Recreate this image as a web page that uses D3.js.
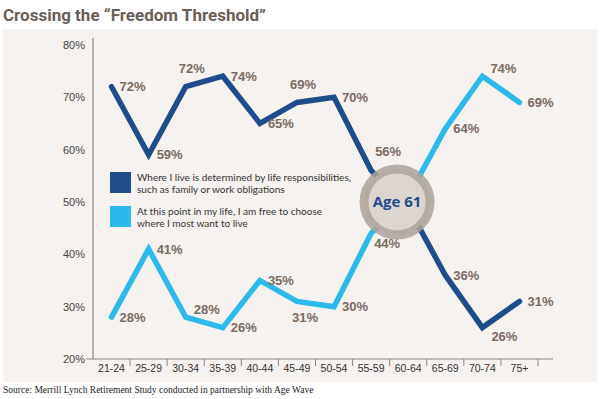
<!DOCTYPE html>
<html>
<head>
<meta charset="utf-8">
<script src="https://cdn.jsdelivr.net/npm/d3@7"></script>
<style>
  html, body { margin: 0; padding: 0; background: #fff; }
  svg { display: block; }
</style>
</head>
<body>
<svg id="chart" width="600" height="399"></svg>
<script>
const W = 600, H = 399;
const colors = {
  panel: '#f6f2ef',
  title: '#6a5f57',
  label: '#7a6b62',
  axis: '#8a8580',
  tickText: '#444',
  dark: '#1f4c8b',
  light: '#2cb9ec',
  ringFill: '#ddd6d0',
  ring: '#aca29a'
};

// data
const ageGroups = ['21-24', '25-29', '30-34', '35-39', '40-44', '45-49', '50-54', '55-59', '60-64', '65-69', '70-74', '75+'];
const determined = [72, 59, 72, 74, 65, 69, 70, 56, 49, 36, 26, 31];
const freeToChoose = [28, 41, 28, 26, 35, 31, 30, 44, 51, 64, 74, 69];
const determinedLabels = ['72%', '59%', '72%', '74%', '65%', '69%', '70%', '56%', null, '36%', '26%', '31%'];
const freeLabels = ['28%', '41%', '28%', '26%', '35%', '31%', '30%', '44%', null, '64%', '74%', '69%'];
const yTicks = [20, 30, 40, 50, 60, 70, 80];
const legendText = [
  ['Where I live is determined by life responsibilities,', 'such as family or work obligations'],
  ['At this point in my life, I am free to choose', 'where I most want to live']
];
const crossingAge = 61;

// label placement codes, one per point
const determinedPlace = ['r', 'r', 'u', 'r', 'r', 'u', 'r', 'ar', null, 'r', 'rd', 'r'];
const freePlace = ['r', 'r', 'ru', 'r', 'r', 'd', 'r', 'br', null, 'r', 'ru', 'r'];
const placeOffsets = {
  r:  {dx: 8, dy: 0, anchor: 'start'},
  ru: {dx: 8, dy: -8, anchor: 'start'},
  rd: {dx: 9, dy: 9, anchor: 'start'},
  u:  {dx: 6, dy: -18, anchor: 'middle'},
  d:  {dx: 8, dy: 16, anchor: 'middle'},
  ar: {dx: 4, dy: -19, anchor: 'start'},
  br: {dx: 3, dy: 10, anchor: 'start'}
};

const svg = d3.select('#chart');

svg.append('text')
   .attr('x', 3)
   .attr('y', 21)
   .attr('font-family', 'Roboto, sans-serif')
   .attr('font-weight', 'bold')
   .attr('font-size', 17)
   .attr('fill', colors.title)
   .text('Crossing the \u201CFreedom Threshold\u201D');

svg.append('rect')
   .attr('x', 3)
   .attr('y', 29)
   .attr('width', 594)
   .attr('height', 353)
   .attr('fill', colors.panel);

const x = d3.scaleBand().domain(ageGroups).range([93, 538]).padding(0);
const y = d3.scaleLinear().domain([20, 80]).range([359, 44.8]);
const cx = (d, i) => x(ageGroups[i]) + x.bandwidth() / 2;

// y axis
svg.append('line')
   .attr('x1', 93).attr('x2', 93)
   .attr('y1', 38).attr('y2', 359)
   .attr('stroke', colors.axis).attr('stroke-width', 1.2);
svg.append('g').selectAll('text')
   .data(yTicks)
   .join('text')
   .attr('x', 85)
   .attr('y', d => y(d) + 4)
   .attr('text-anchor', 'end')
   .attr('font-family', 'Liberation Sans, Arial, sans-serif')
   .attr('font-size', 11)
   .attr('fill', colors.tickText)
   .text(d => d + '%');

// x axis
svg.append('line')
   .attr('x1', 86).attr('x2', 553)
   .attr('y1', 359).attr('y2', 359)
   .attr('stroke', colors.axis).attr('stroke-width', 1.2);
svg.append('g').selectAll('line')
   .data(ageGroups)
   .join('line')
   .attr('x1', d => x(d) + x.bandwidth())
   .attr('x2', d => x(d) + x.bandwidth())
   .attr('y1', 359).attr('y2', 366)
   .attr('stroke', colors.axis);
svg.append('g').selectAll('text')
   .data(ageGroups)
   .join('text')
   .attr('x', d => x(d) + x.bandwidth() / 2)
   .attr('y', 372)
   .attr('text-anchor', 'middle')
   .attr('font-family', 'Liberation Sans, Arial, sans-serif')
   .attr('font-size', 10.5)
   .attr('fill', '#333')
   .text(d => d);

// lines
const line = d3.line().x(cx).y(d => y(d));
[[freeToChoose, colors.light], [determined, colors.dark]].forEach(([values, color]) => {
  svg.append('path')
     .attr('d', line(values))
     .attr('fill', 'none')
     .attr('stroke', color)
     .attr('stroke-width', 5.5)
     .attr('stroke-linejoin', 'miter')
     .attr('stroke-linecap', 'round');
});

// value labels
function drawLabels(values, labels, places) {
  svg.append('g').selectAll('text')
     .data(values.map((v, i) => ({v, i, label: labels[i], place: placeOffsets[places[i]]})).filter(d => d.label))
     .join('text')
     .attr('x', d => cx(d.v, d.i) + d.place.dx)
     .attr('y', d => y(d.v) + d.place.dy + 4.6)
     .attr('text-anchor', d => d.place.anchor)
     .attr('font-family', 'Liberation Sans, Arial, sans-serif')
     .attr('font-weight', 'bold')
     .attr('font-size', 13)
     .attr('fill', colors.label)
     .text(d => d.label);
}
drawLabels(determined, determinedLabels, determinedPlace);
drawLabels(freeToChoose, freeLabels, freePlace);

// Age 61 badge, placed where the lines cross within the 60-64 band
const bandIdx = ageGroups.indexOf('60-64');
const frac = (crossingAge - 60) / 5;
const badgeX = x('60-64') + frac * x.bandwidth();
const interp = (vals) => {
  const x0 = cx(0, bandIdx - 1), x1 = cx(0, bandIdx);
  const t = (badgeX - x0) / (x1 - x0);
  return y(vals[bandIdx - 1]) + t * (y(vals[bandIdx]) - y(vals[bandIdx - 1]));
};
const badgeY = (interp(determined) + interp(freeToChoose)) / 2;
svg.append('circle')
   .attr('cx', badgeX).attr('cy', badgeY).attr('r', 33)
   .attr('fill', colors.ringFill)
   .attr('stroke', colors.ring)
   .attr('stroke-opacity', 0.85)
   .attr('stroke-width', 9);
svg.append('text')
   .attr('x', badgeX)
   .attr('y', badgeY + 5.5)
   .attr('text-anchor', 'middle')
   .attr('font-family', 'Open Sans, sans-serif')
   .attr('font-weight', 'bold')
   .attr('font-size', 15)
   .attr('fill', colors.dark)
   .text('Age ' + crossingAge);

// legend
const legend = svg.append('g').attr('transform', 'translate(110,172)');
[colors.dark, colors.light].forEach((c, i) => {
  const g = legend.append('g').attr('transform', `translate(0,${i * 34})`);
  g.append('rect').attr('width', 21).attr('height', 21).attr('fill', c);
  legendText[i].forEach((t, j) => {
    g.append('text')
     .attr('x', 27)
     .attr('y', 8.5 + j * 12)
     .attr('font-family', 'Lato, sans-serif')
     .attr('font-size', 10)
     .attr('fill', '#333')
     .text(t);
  });
});

// source note
svg.append('text')
   .attr('x', 3)
   .attr('y', 393)
   .attr('font-family', 'Liberation Serif, Times New Roman, serif')
   .attr('font-size', 9.5)
   .attr('fill', '#222')
   .text('Source: Merrill Lynch Retirement Study conducted in partnership with Age Wave');
</script>
</body>
</html>
